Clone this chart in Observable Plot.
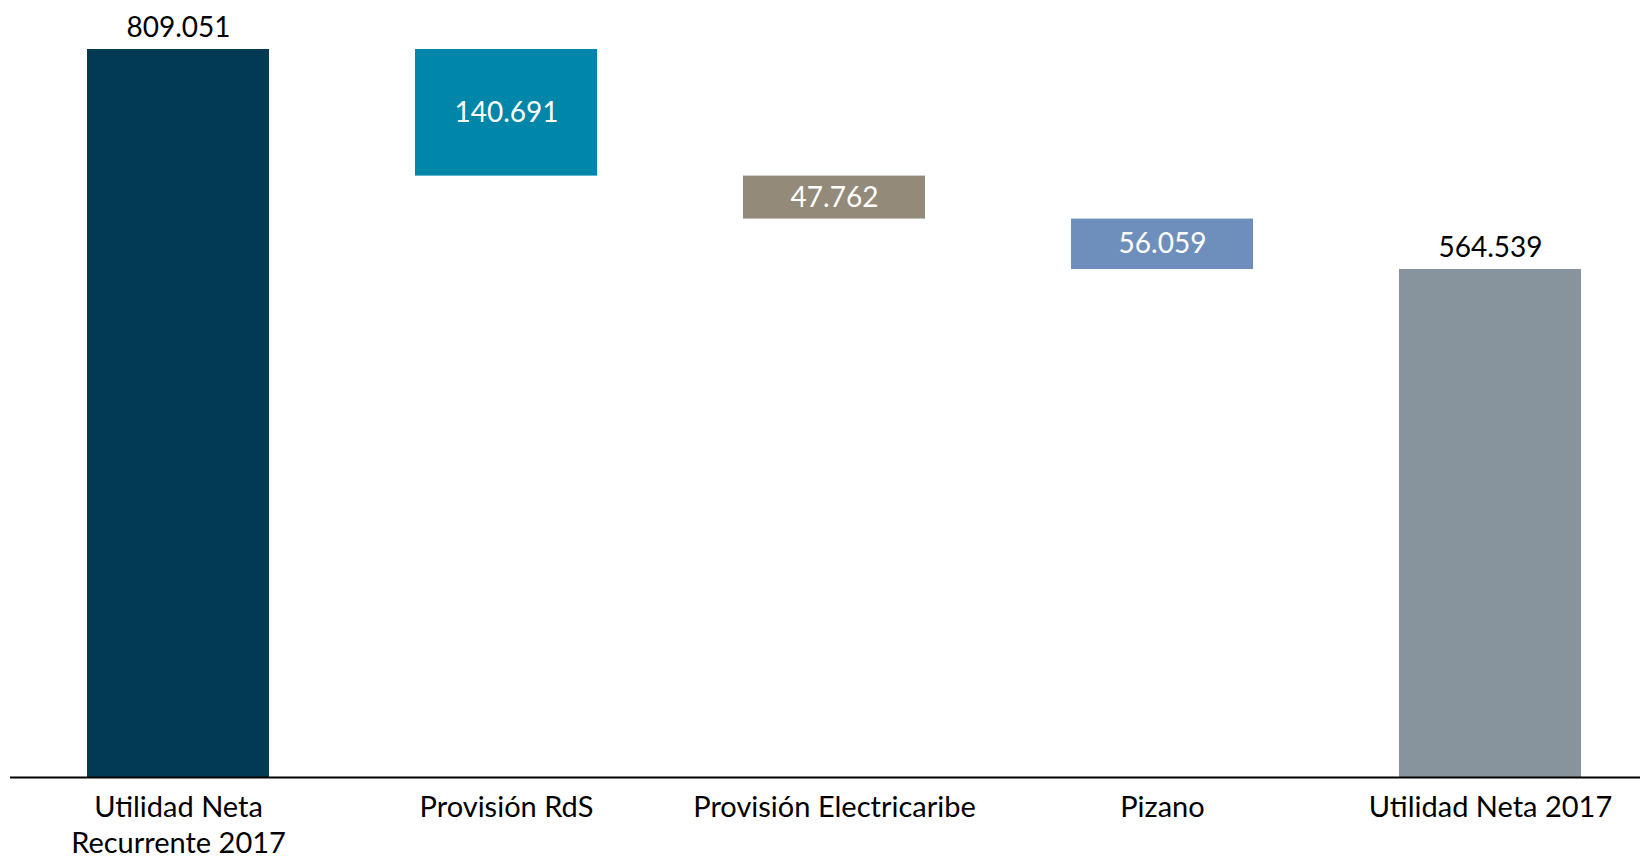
<!DOCTYPE html>
<html>
<head>
<meta charset="utf-8">
<script src="https://cdn.jsdelivr.net/npm/d3@7"></script>
<script src="https://cdn.jsdelivr.net/npm/@observablehq/plot@0.6"></script>
<style>
  html, body { margin: 0; padding: 0; background: #ffffff; }
  #chart svg { display: block; }
</style>
</head>
<body>
<div id="chart"></div>
<script>
// Data
const categories = ["Utilidad Neta\nRecurrente 2017", "Provisión RdS", "Provisión Electricaribe", "Pizano", "Utilidad Neta 2017"];
const values = [809051, -140691, -47762, -56059, 564539];
const kinds = ["total", "delta", "delta", "delta", "total"];
const colors = ["#023A54", "#0086A8", "#948A7A", "#6E8FBC", "#87949D"];

// Build waterfall table
const fmt = d3.formatLocale({decimal: ",", thousands: ".", grouping: [3]}).format(",d");
let running = 0;
const rows = categories.map((c, i) => {
  let y1, y2;
  if (kinds[i] === "total") { y1 = 0; y2 = values[i]; running = values[i]; }
  else { y1 = running; y2 = running + values[i]; running = y2; }
  return {cat: c, y1, y2, lo: Math.min(y1, y2), hi: Math.max(y1, y2), kind: kinds[i], color: colors[i], label: fmt(Math.abs(values[i]))};
});

const font = "Lato, 'Open Sans', sans-serif";

const chart = Plot.plot({
  width: 1640,
  height: 860,
  marginTop: 0,
  marginBottom: 83,
  marginLeft: 10,
  marginRight: 0,
  style: {fontFamily: font, background: "#ffffff"},
  x: {domain: categories, range: [13, 1656], paddingInner: 0.445, paddingOuter: 0.2225, axis: null},
  y: {domain: [0, 809051], range: [777, 49], axis: null},
  marks: [
    Plot.rectY(rows, {x: "cat", y1: "lo", y2: "hi", fill: "color"}),
    Plot.ruleY([0], {stroke: "#000000", strokeWidth: 2}),
    // labels above total bars
    Plot.text(rows.filter(d => d.kind === "total"), {x: "cat", y: "hi", text: "label", dy: -21, lineAnchor: "middle", fill: "#000000", fontSize: 28}),
    // labels inside delta bars
    Plot.text(rows.filter(d => d.kind === "delta"), {x: "cat", y: d => (d.lo + d.hi) / 2, text: "label", lineAnchor: "middle", fill: "#ffffff", fontSize: 28}),
    // category labels
    Plot.text(rows, {x: "cat", y: 0, text: "cat", dy: 14, lineAnchor: "top", lineHeight: 1.25, fill: "#000000", fontSize: 29})
  ]
});
document.getElementById("chart").appendChild(chart);
</script>
</body>
</html>
